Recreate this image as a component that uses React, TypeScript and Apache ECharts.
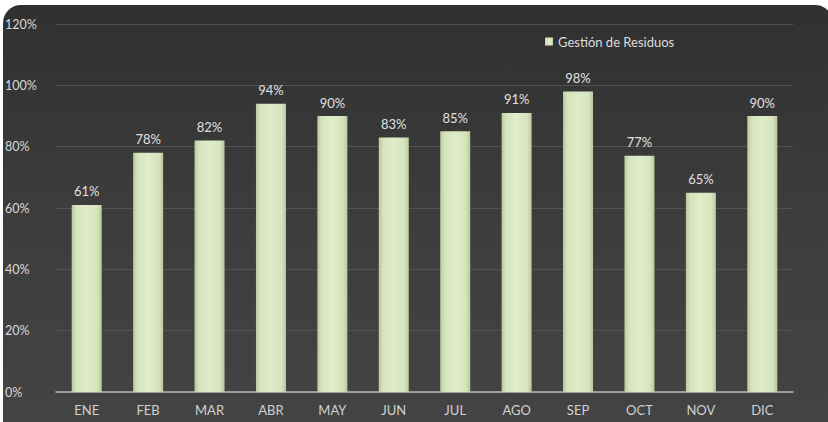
import React, { useEffect, useRef } from "react";
import * as echarts from "echarts";

const categories = ["ENE", "FEB", "MAR", "ABR", "MAY", "JUN", "JUL", "AGO", "SEP", "OCT", "NOV", "DIC"];
const values = [61, 78, 82, 94, 90, 83, 85, 91, 98, 77, 65, 90];
const seriesName = "Gestión de Residuos";

export default function App() {
  const ref = useRef<HTMLDivElement>(null);
  useEffect(() => {
    document.body.style.margin = "0";
    const chart = echarts.init(ref.current!, null, { renderer: "svg" });
    const font = "Lato, 'Open Sans', sans-serif";
    chart.setOption({
      animation: false,
      backgroundColor: "#ffffff",
      graphic: [
        {
          type: "rect",
          z: -10,
          silent: true,
          shape: { x: 3, y: 5, width: 830, height: 430, r: [18, 18, 0, 0] },
          style: {
            fill: new echarts.graphic.LinearGradient(0, 0, 0, 1, [
              { offset: 0, color: "#303030" },
              { offset: 0.5, color: "#3d3d3d" },
              { offset: 1, color: "#444444" },
            ]),
          },
        },
      ],
      legend: {
        left: 540,
        top: 30,
        itemWidth: 8,
        itemHeight: 8,
        itemGap: 5,
        icon: "rect",
        textStyle: { color: "#dcdcdc", fontSize: 13, fontFamily: font },
        data: [seriesName],
      },
      grid: { left: 56, right: 35, top: 24, bottom: 30, containLabel: false },
      xAxis: {
        type: "category",
        data: categories,
        axisLine: { lineStyle: { color: "#b8b8b8", width: 1.5 } },
        axisTick: { show: false },
        axisLabel: { color: "#d0d0d0", fontSize: 13, fontFamily: font, margin: 11 },
      },
      yAxis: {
        type: "value",
        min: 0,
        max: 120,
        interval: 20,
        axisLine: { show: false },
        axisTick: { show: false },
        splitLine: { lineStyle: { color: "#535353", width: 1 } },
        axisLabel: {
          color: "#dadada",
          fontSize: 12.5,
          fontFamily: font,
          formatter: "{value}%",
          align: "left",
          margin: 51,
        },
      },
      series: [
        {
          name: seriesName,
          type: "bar",
          data: values,
          barWidth: 30,
          itemStyle: {
            color: new echarts.graphic.LinearGradient(0, 0, 1, 0, [
              { offset: 0, color: "#b9c99e" },
              { offset: 0.15, color: "#d6e4bd" },
              { offset: 0.5, color: "#e0ecca" },
              { offset: 0.85, color: "#d6e4bd" },
              { offset: 1, color: "#b9c99e" },
            ]),
          },
          label: {
            show: true,
            position: "top",
            distance: 7,
            formatter: "{c}%",
            color: "#e0e0e0",
            fontSize: 13,
            fontFamily: font,
          },
        },
      ],
    });
    return () => chart.dispose();
  }, []);
  return <div ref={ref} style={{ width: 828, height: 422 }} />;
}
